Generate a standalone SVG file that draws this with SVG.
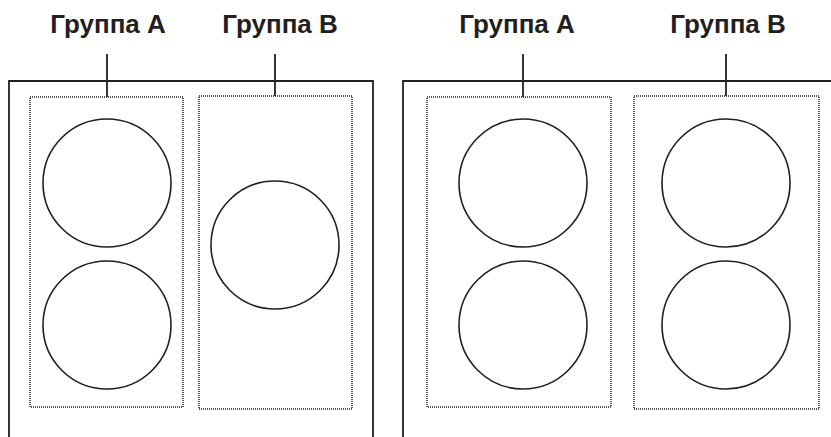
<svg xmlns="http://www.w3.org/2000/svg" width="831" height="437" viewBox="0 0 831 437">
<style>
.frame{fill:none;stroke:#231f20;stroke-width:1.8}
.stem{stroke:#231f20;stroke-width:1.8}
.grp{fill:none;stroke:#231f20;stroke-width:1.5;stroke-dasharray:1 1}
.c{fill:#fff;stroke:#231f20;stroke-width:1.6}
.t{font-family:"Liberation Sans",Arial,sans-serif;font-weight:bold;font-size:26px;fill:#231f20;text-anchor:middle}
</style>
<rect width="831" height="437" fill="#fff"/>
<g id="frame-left"><path class="frame" d="M9,437 V81 H373 V437"/></g>
<g id="frame-right"><path class="frame" d="M403,437 V81 H832"/></g>
<g id="connectors">
<line class="stem" x1="107" y1="54" x2="107" y2="97"/>
<line class="stem" x1="275" y1="54" x2="275" y2="96"/>
<line class="stem" x1="523" y1="54" x2="523" y2="97"/>
<line class="stem" x1="726" y1="54" x2="726" y2="96"/>
</g>
<g id="left-group-a">
<text class="t" x="108" y="33">Группа A</text>
<rect class="grp" x="30" y="97" width="153" height="310"/>
<circle class="c" cx="107" cy="183" r="64"/>
<circle class="c" cx="107" cy="325" r="64"/>
</g>
<g id="left-group-b">
<text class="t" x="280" y="33">Группа B</text>
<rect class="grp" x="199" y="96" width="153" height="313"/>
<circle class="c" cx="275" cy="245" r="64"/>
</g>
<g id="right-group-a">
<text class="t" x="517" y="33">Группа A</text>
<rect class="grp" x="427" y="97" width="184" height="310"/>
<circle class="c" cx="523" cy="183" r="64"/>
<circle class="c" cx="523" cy="325" r="64"/>
</g>
<g id="right-group-b">
<text class="t" x="728" y="33">Группа B</text>
<rect class="grp" x="634" y="96" width="185" height="313"/>
<circle class="c" cx="726" cy="183" r="64"/>
<circle class="c" cx="726" cy="325" r="64"/>
</g>
</svg>
